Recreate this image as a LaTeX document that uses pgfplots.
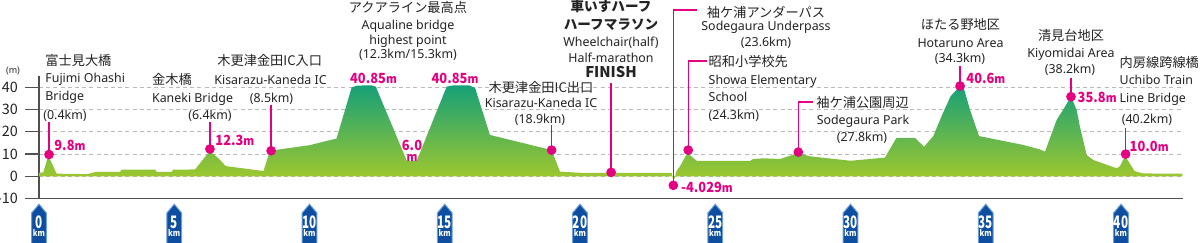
\documentclass[border=0pt]{standalone}
\usepackage{graphicx}
\usepackage{pgfplots}
\pgfplotsset{compat=1.18}
\usepackage{fontspec}
\setmainfont{Noto Sans}
\newfontfamily\jp{Noto Sans CJK JP}
\definecolor{mag}{RGB}{228,0,127}
\definecolor{kmblue}{RGB}{13,78,160}
\definecolor{kmedge}{RGB}{110,160,215}
\definecolor{topg}{RGB}{22,160,120}
\definecolor{botg}{RGB}{160,200,45}
\definecolor{txt}{RGB}{35,35,35}
\definecolor{axg}{RGB}{80,80,80}
\definecolor{gridg}{RGB}{185,185,185}
\newcommand\lf{\fontsize{6.2}{7}\selectfont}
\newcommand\jf{\jp\fontsize{6.6}{7}\selectfont}
\newcommand\jb{\jp\bfseries\fontsize{6.8}{7}\selectfont}
\newcommand{\tx}[4][]{\node[lbl,#1] at (axis cs:{(#2-39)/27.05},{(176.3-#3)/2.225}) {#4};}
\newcommand{\val}[2]{\scalebox{0.92}[1]{{\jp\bfseries\fontsize{7}{7}\selectfont #1}{\jp\bfseries\fontsize{6}{7}\selectfont #2}}}
\tikzset{
  lbl/.style={inner sep=0pt, text height=5pt, text depth=0pt, text=txt, anchor=center},
  val/.style={text=mag},
  leader/.style={mag, line width=0.7pt},
}
\pgfplotstableread{
km m
0 1.6
0.16 1.8
0.3 7.5
0.37 8.8
0.45 6.5
0.65 1.2
1.8 1.0
2.1 2.0
3.0 2.0
3.05 3.0
4.3 3.0
4.35 2.0
4.9 2.0
4.96 3.0
5.77 3.1
6.32 11.5
6.7 7.3
6.9 4.6
8.3 2.4
8.54 11.5
10.0 14.0
11.0 17.0
11.56 40.0
11.75 40.7
12.0 40.85
12.3 40.85
12.45 40.3
13.6 6.9
13.96 6.9
15.07 40.3
15.3 40.85
15.9 40.85
16.12 39.8
16.67 18.6
18.95 11.8
19.26 2.1
20.0 1.6
21.15 1.6
23.39 1.6
23.43 -1.0
23.5 -1.0
23.55 2.0
23.7 4.6
23.97 10.5
24.31 7.0
26.3 7.0
26.4 7.8
26.78 8.1
27.4 7.8
28.07 10.5
28.5 9.0
30.0 7.0
31.27 8.4
31.7 17.3
32.38 17.3
32.72 13.3
33.06 18.1
33.4 28.0
33.7 36.0
34.05 40.6
34.2 39.0
34.42 29.8
34.75 18.1
36.39 14.1
37.0 12.1
37.19 11.1
37.62 25.3
37.93 31.3
38.15 36.0
38.36 29.8
38.48 22.3
38.73 9.6
38.98 7.3
39.84 3.6
39.96 4.6
40.15 9.1
40.5 2.4
40.8 1.3
42.27 1.2
}\profile
\pgfplotstableread{
km m
0.37 9.8
6.32 12.3
8.58 11.5
18.95 11.8
21.15 1.8
23.45 -4.029
24.0 11.8
28.07 10.9
34.05 40.6
38.15 35.8
40.17 10.0
}\points
\begin{document}
\begin{tikzpicture}
\begin{axis}[
  scale only axis, width=572.1pt, height=61.2pt,
  xmin=0, xmax=42.3, ymin=-10, ymax=45,
  axis lines=left, axis line style={-, axg, line width=0.7pt},
  clip=false,
  xtick=\empty, minor xtick={0,1,...,42},
  ytick={-10,0,10,20,30,40},
  tick align=outside, major tick length=7pt, minor tick length=1.6pt,
  tick style={axg, line width=0.6pt},
  ymajorgrids, grid style={gridg, line width=0.5pt, dash pattern=on 2pt off 1.6pt},
  yticklabel style={font=\jp\fontsize{7.2}{7}\selectfont, text=txt, /pgf/number format/assume math mode=true},
]
\addplot[draw=none, top color=topg, bottom color=botg] table[x=km,y=m]{\profile} \closedcycle;
% leaders
\draw[leader] (axis cs:0.37,9.8) -- (axis cs:0.37,24.4);
\draw[leader] (axis cs:6.32,12.3) -- (axis cs:6.32,24.4);
\draw[leader] (axis cs:8.58,11.5) -- (axis cs:8.58,32.0);
\draw[leader] (axis cs:18.95,11.8) -- (axis cs:18.95,23.1);
\draw[leader] (axis cs:21.15,1.8) -- (axis cs:21.15,41.9);
\draw[leader] (axis cs:23.45,-4.029) -- (axis cs:23.45,74.7) -- (axis cs:24.34,74.7);
\draw[leader] (axis cs:24.0,11.8) -- (axis cs:24.0,51.8) -- (axis cs:24.68,51.8);
\draw[leader] (axis cs:28.07,10.9) -- (axis cs:28.07,33.4) -- (axis cs:28.62,33.4);
\draw[leader] (axis cs:34.05,40.6) -- (axis cs:34.05,49.6);
\draw[leader] (axis cs:38.15,35.8) -- (axis cs:38.15,44.2);
\draw[leader] (axis cs:40.17,10.0) -- (axis cs:40.17,21.7);
\addplot[only marks, mark=*, mark size=2.2pt, mag] table[x=km,y=m]{\points};
% km boxes
\pgfplotsinvokeforeach{0,5,...,40}{
  \coordinate (k#1) at (axis cs:#1,-10);
  \fill[kmblue, draw=kmedge, line width=0.5pt] ([yshift=-2.8pt]k#1) -- ([xshift=3.7pt,yshift=-7.2pt]k#1) -- ([xshift=3.7pt,yshift=-26pt]k#1) -- ([xshift=-3.7pt,yshift=-26pt]k#1) -- ([xshift=-3.7pt,yshift=-7.2pt]k#1) -- cycle;
  \node[text=white, inner sep=0pt] at ([yshift=-11.9pt]k#1) {\scalebox{0.68}[1]{\jp\bfseries\fontsize{8.6}{8}\selectfont #1}};
  \node[text=white, inner sep=0pt] at ([yshift=-17.4pt]k#1) {\scalebox{0.85}[1]{\jp\bfseries\fontsize{4.4}{4}\selectfont km}};
}
\tx{13}{68}{\fontsize{4.5}{5}\selectfont (m)}
% Fujimi
\tx[anchor=west]{45}{60}{\jf 富士見大橋}
\tx[anchor=west]{45}{77}{\lf Fujimi Ohashi}
\tx[anchor=west]{45}{95}{\lf Bridge}
\tx[anchor=west]{43}{114}{\lf (0.4km)}
\tx[val,anchor=west]{54}{145}{\val{9.8}{m}}
% Kaneki
\tx[anchor=west]{151.7}{79}{\jf 金木橋}
\tx[anchor=west]{151.7}{97}{\lf Kaneki Bridge}
\tx{210}{114}{\lf (6.4km)}
\tx[val,anchor=west]{215}{140}{\val{12.3}{m}}
% Kisarazu entry
\tx[anchor=west]{217}{60}{\jf 木更津金田IC入口}
\tx[anchor=west]{214}{79}{\lf Kisarazu-Kaneda IC}
\tx{271.5}{97}{\lf (8.5km)}
% Aqualine
\tx{408}{7}{\jf アクアライン最高点}
\tx{408}{24}{\lf Aqualine bridge}
\tx{408}{39}{\lf highest point}
\tx{408}{53}{\lf (12.3km/15.3km)}
\tx[val]{373.5}{78}{\val{40.85}{m}}
\tx[val]{455}{78}{\val{40.85}{m}}
\tx[val]{412}{145}{\val{6.0}{}}
\tx[val]{412}{156}{\val{}{m}}
% Kisarazu exit
\tx{541}{87}{\jf 木更津金田IC出口}
\tx{541}{102}{\lf Kisarazu-Kaneda IC}
\tx{540}{118}{\lf (18.9km)}
% Finish
\tx{611}{6}{\jb 車いすハーフ}
\tx{611}{24}{\jb ハーフマラソン}
\tx{611}{41}{\lf Wheelchair(half)}
\tx{611}{57}{\lf Half-marathon}
\tx{611}{72}{\jp\bfseries\fontsize{7.4}{7}\selectfont FINISH}
% Underpass
\tx{766}{12}{\jf 袖ケ浦アンダーパス}
\tx{766}{25}{\lf Sodegaura Underpass}
\tx{766}{41}{\lf (23.6km)}
\tx[val,anchor=west]{680.7}{187}{\val{-4.029}{m}}
% Showa
\tx[anchor=west]{708.3}{61}{\jf 昭和小学校先}
\tx[anchor=west]{708.3}{79}{\lf Showa Elementary}
\tx[anchor=west]{708.3}{96}{\lf School}
\tx[anchor=west]{708.3}{114}{\lf (24.3km)}
% Park
\tx[anchor=west]{816}{102}{\jf 袖ケ浦公園周辺}
\tx{863}{119}{\lf Sodegaura Park}
\tx{862}{136}{\lf (27.8km)}
% Hotaruno
\tx{960.5}{24}{\jf ほたる野地区}
\tx{960.5}{42}{\lf Hotaruno Area}
\tx{960}{57}{\lf (34.3km)}
\tx[val,anchor=west]{966}{78}{\val{40.6}{m}}
% Kiyomidai
\tx{1071}{35}{\jf 清見台地区}
\tx{1071}{52}{\lf Kiyomidai Area}
\tx{1070}{68}{\lf (38.2km)}
\tx[val,anchor=west]{1077.3}{97}{\val{35.8}{m}}
% Uchibo
\tx[anchor=west]{1119.3}{62}{\jf 内房線跨線橋}
\tx[anchor=west]{1119.3}{79}{\lf Uchibo Train}
\tx[anchor=west]{1119.3}{97}{\lf Line Bridge}
\tx{1147}{118}{\lf (40.2km)}
\tx[val,anchor=west]{1129.3}{146}{\val{10.0}{m}}
\coordinate (TL) at (axis cs:{(0-39)/27.05},{(176.3-0)/2.225});
\coordinate (BR) at (axis cs:{(1200-39)/27.05},{(176.3-242)/2.225});
\end{axis}
\pgfresetboundingbox
\path[use as bounding box] (TL) rectangle (BR);
\end{tikzpicture}
\end{document}
